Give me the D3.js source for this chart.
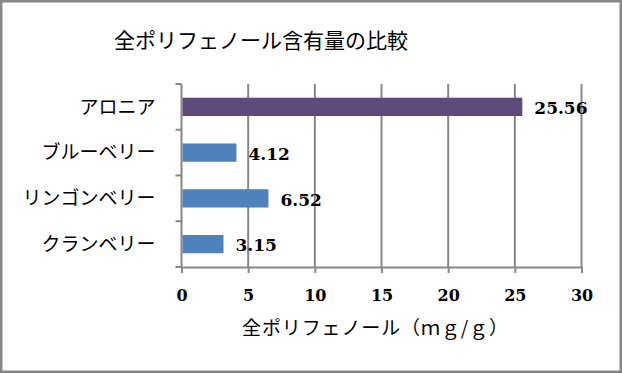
<!DOCTYPE html>
<html>
<head>
<meta charset="utf-8">
<script src="https://cdn.jsdelivr.net/npm/d3@7"></script>
<style>
  body { margin: 0; background: #fff; }
  svg { display: block; }
  .jp { font-family: "Noto Sans CJK JP", sans-serif; fill: #000; }
  .num { font-family: "DejaVu Serif", serif; font-weight: bold; fill: #000; }
</style>
</head>
<body>
<div class="visuals"></div>
<script>
var categories = ['アロニア', 'ブルーベリー', 'リンゴンベリー', 'クランベリー'];
var values = [25.56, 4.12, 6.52, 3.15];
var barColors = ['#604a7b', '#4f81bd', '#4f81bd', '#4f81bd'];
var xTicks = [0, 5, 10, 15, 20, 25, 30];
var title = '全ポリフェノール含有量の比較';
var xTitle = '全ポリフェノール（ｍｇ/ｇ）';

document.addEventListener('DOMContentLoaded', function () {
  var W = 622, H = 373;
  var m = { left: 181.5, top: 84, right: 40.5, bottom: 106 };
  var w = W - m.left - m.right, h = H - m.top - m.bottom;
  var grey = '#878787';

  var data = categories.map(function(c, i){ return { name: c, value: values[i], color: barColors[i] }; });

  var svg = d3.select('.visuals').append('svg')
    .attr('width', W)
    .attr('height', H);

  // outer frame
  svg.append('rect')
    .attr('x', 1.25).attr('y', 1.25)
    .attr('width', W - 2.5).attr('height', H - 2.5)
    .style('fill', '#fff')
    .style('stroke', '#888')
    .style('stroke-width', 2.5);

  svg.append('text')
    .attr('class', 'jp')
    .attr('x', 261)
    .attr('y', 48)
    .attr('text-anchor', 'middle')
    .style('font-size', '21px')
    .text(title);

  var x = d3.scaleLinear().domain([0, 30]).range([0, w]);
  var y = d3.scaleBand().domain(categories).range([0, h]).paddingInner(0.6).paddingOuter(0.3);

  var g = svg.append('g').attr('transform', 'translate(' + m.left + ',' + m.top + ')');

  // vertical gridlines
  g.selectAll('line.grid')
    .data(xTicks.slice(1))
    .enter().append('line')
    .attr('class', 'grid')
    .attr('x1', function(d){ return x(d); })
    .attr('x2', function(d){ return x(d); })
    .attr('y1', 0)
    .attr('y2', h)
    .style('stroke', grey)
    .style('stroke-width', 2);

  // x axis
  var xAxis = g.append('g')
    .attr('transform', 'translate(0,' + h + ')')
    .call(d3.axisBottom(x).tickValues(xTicks).tickSize(6).tickPadding(17));
  xAxis.select('.domain').style('stroke', grey).style('stroke-width', 2);
  xAxis.selectAll('.tick line').style('stroke', grey).style('stroke-width', 2);
  xAxis.selectAll('.tick text')
    .attr('class', 'num')
    .style('font-size', '16px');

  // y axis: ticks at band boundaries
  g.append('line')
    .attr('x1', 0).attr('x2', 0).attr('y1', 0).attr('y2', h)
    .style('stroke', grey).style('stroke-width', 2);
  g.selectAll('line.ytick')
    .data(d3.range(categories.length + 1))
    .enter().append('line')
    .attr('class', 'ytick')
    .attr('x1', -6).attr('x2', 0)
    .attr('y1', function(i){ return i * h / categories.length; })
    .attr('y2', function(i){ return i * h / categories.length; })
    .style('stroke', grey).style('stroke-width', 2);

  g.selectAll('text.cat')
    .data(data)
    .enter().append('text')
    .attr('class', 'jp cat')
    .attr('x', -26)
    .attr('y', function(d){ return y(d.name) + y.bandwidth() / 2; })
    .attr('dy', '0.36em')
    .attr('text-anchor', 'end')
    .style('font-size', '19px')
    .text(function(d){ return d.name; });

  // bars
  g.selectAll('rect.bar')
    .data(data)
    .enter().append('rect')
    .attr('class', 'bar')
    .attr('x', 1)
    .attr('y', function(d){ return y(d.name); })
    .attr('width', function(d){ return x(d.value) - 1; })
    .attr('height', y.bandwidth())
    .style('fill', function(d){ return d.color; });

  // value labels
  g.selectAll('text.val')
    .data(data)
    .enter().append('text')
    .attr('class', 'num val')
    .attr('x', function(d){ return x(d.value) + 12; })
    .attr('y', function(d){ return y(d.name) + y.bandwidth() / 2; })
    .attr('dy', '0.42em')
    .style('font-size', '17px')
    .text(function(d){ return d.value.toFixed(2); });

  svg.append('text')
    .attr('class', 'jp')
    .attr('x', 242)
    .attr('y', 335)
    .attr('textLength', 266)
    .attr('lengthAdjust', 'spacing')
    .style('font-size', '19px')
    .text(xTitle);
});
</script>
</body>
</html>
